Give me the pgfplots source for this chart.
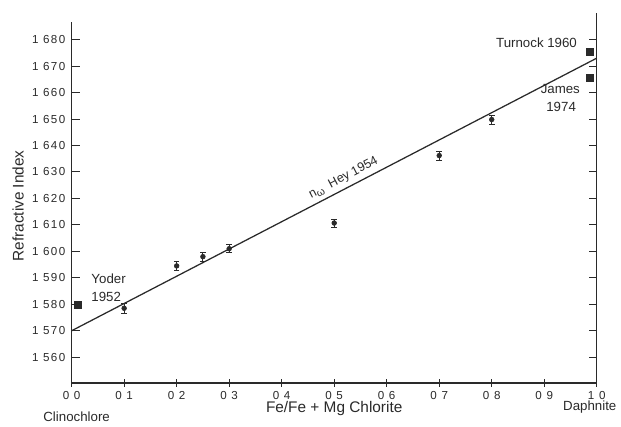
\documentclass[border=0pt]{standalone}
\usepackage{fontspec}
\setmainfont{Liberation Sans}
\newfontfamily\tickfont[LetterSpace=12]{Liberation Sans}
\usepackage{pgfplots}
\pgfplotsset{compat=1.18}
\definecolor{ink}{HTML}{2A2A2A}

% measured points with error bars
\pgfplotstableread{
x      y       e
0.10   1.5785  0.0020
0.20   1.5945  0.0017
0.25   1.5980  0.0017
0.30   1.6010  0.0015
0.50   1.6107  0.0015
0.70   1.6362  0.0017
0.80   1.6498  0.0017
}\measured

\begin{document}
\begin{tikzpicture}
\begin{axis}[
    scale only axis,
    width=13.2cm, height=9.075cm,
    xmin=0, xmax=1, ymin=1.5503, ymax=1.6867,
    axis x line=bottom, axis y line=box,
    axis line style={-, ink, line width=0.9pt},
    tick style={ink, line width=0.7pt},
    major tick length=0.2cm,
    ytick pos=both,
    xtick={0,0.1,0.2,0.3,0.4,0.5,0.6,0.7,0.8,0.9,1.0},
    xticklabels={0 0,0 1,0 2,0 3,0 4,0 5,0 6,0 7,0 8,0 9,1 0},
    ytick={1.56,1.57,1.58,1.59,1.60,1.61,1.62,1.63,1.64,1.65,1.66,1.67,1.68},
    yticklabels={1 560,1 570,1 580,1 590,1 600,1 610,1 620,1 630,1 640,1 650,1 660,1 670,1 680},
    yticklabel pos=left,
    ticklabel style={font=\tickfont\fontsize{8.3}{10}\selectfont, text=ink},
    xticklabel style={yshift=0pt},
    yticklabel style={xshift=-1pt},
    xlabel={Fe/Fe + Mg Chlorite},
    ylabel={Refractive Index},
    label style={font=\fontsize{11}{13}\selectfont, text=ink},
    xlabel style={at={(axis description cs:0.5,-0.071)}, anchor=center},
    ylabel style={at={(axis description cs:-0.102,0.49)}, anchor=center},
    clip=false,
]
% invisible frame giving the picture the reference's size
\path (rel axis cs:-0.1364,-0.113) rectangle (rel axis cs:1.0398,1.0606);
% right axis runs a little higher than the left one
\draw[ink, line width=0.9pt] (rel axis cs:1,1) -- (rel axis cs:1,1.025);

% n_omega line (Hey 1954)
\addplot[ink, line width=0.9pt] coordinates {(0,1.5700) (1,1.6730)};

\addplot[only marks, mark=*, mark size=1.7pt, ink,
    error bars/.cd, y dir=both, y explicit,
    error mark options={rotate=90, mark size=2pt, line width=0.6pt},
    error bar style={line width=0.6pt}]
    table[x=x, y=y, y error=e] {\measured};

% literature values
\addplot[only marks, mark=square*, mark size=2.5pt, ink]
    coordinates {(0.011,1.5800) (0.987,1.6755) (0.987,1.6655)};

\path[font=\fontsize{9.5}{11}\selectfont, text=ink]
  (rel axis cs:0.0284,0.2893) node[anchor=west] {Yoder}
  (rel axis cs:0.0284,0.2369) node[anchor=west] {1952}
  (rel axis cs:0.9716,0.9421) node[anchor=east] {Turnock 1960}
  (rel axis cs:0.9773,0.8154) node[anchor=east] {James}
  (rel axis cs:0.9697,0.7631) node[anchor=east] {1974}
  (rel axis cs:0.0095,-0.094) node {Clinochlore}
  (rel axis cs:0.9867,-0.068) node {Daphnite};
\node[font=\fontsize{9}{11}\selectfont, text=ink, rotate=27.6, anchor=south, inner sep=1.5pt]
  at (axis cs:0.525,1.6250) {n\raisebox{-0.35ex}{\fontsize{7.5}{8}\selectfont ω}\ \ Hey 1954};
\end{axis}
\end{tikzpicture}
\end{document}
